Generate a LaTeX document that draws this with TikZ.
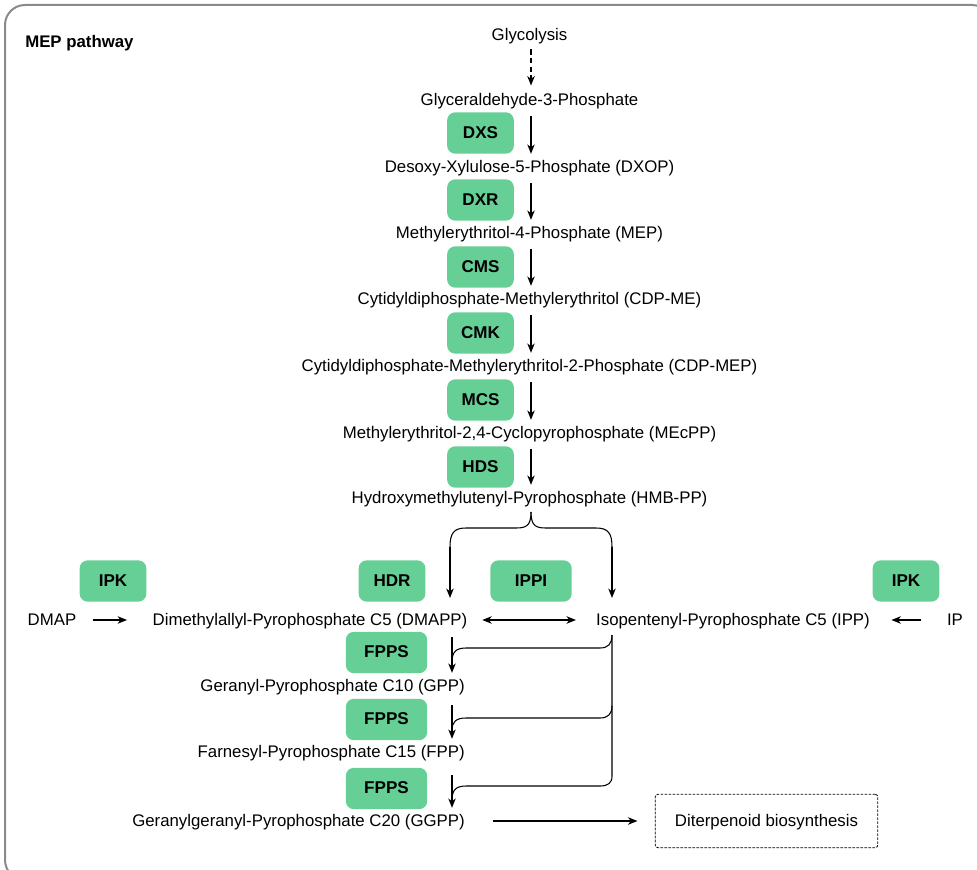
\documentclass[tikz,border=0pt]{standalone}
\usepackage{fontspec}
\setmainfont{Liberation Sans}
\usetikzlibrary{arrows.meta}
\definecolor{enz}{RGB}{102,207,150}
\definecolor{framegray}{RGB}{138,138,138}
\begin{document}
\begin{tikzpicture}[x=0.75pt,y=-0.75pt,
  every node/.style={font=\fontsize{12.6}{15}\selectfont, inner sep=0pt, text height=10.5pt, text depth=2.8pt},
  enzyme/.style={fill=enz, rounded corners=6pt, minimum width=50pt, minimum height=31pt,
    font=\fontsize{12.8}{15}\selectfont\bfseries},
  wideenz/.style={enzyme, minimum width=61pt},
  flow/.style={-{Stealth[length=7pt,width=5.5pt,inset=2pt]}, line width=1.2pt},
  dflow/.style={{Stealth[length=7pt,width=5.5pt,inset=2pt]}-{Stealth[length=7pt,width=5.5pt,inset=2pt]}, line width=1.2pt},
  thinline/.style={line width=0.8pt},
  outerframe/.style={draw=framegray, line width=1.5pt, rounded corners=15pt},
  resultbox/.style={draw, dashed, dash pattern=on 2pt off 1pt, line width=0.6pt, rounded corners=2pt,
    minimum width=167pt, minimum height=40pt}
]
\useasboundingbox (0,0) rectangle (977,870);
\begin{scope}
  \clip (0,0) rectangle (977,870);
  \draw[outerframe] (5,5) rectangle (992,880);
\end{scope}

\coordinate (col) at (531,0);

\node[anchor=west, font=\fontsize{12.6}{15}\selectfont\bfseries] (title) at (25,42) {MEP pathway};

\node (gly)  at (529.5,35)  {Glycolysis};
\node (g3p)  at (529.5,100) {Glyceraldehyde-3-Phosphate};
\node (dxop) at (529.5,167) {Desoxy-Xylulose-5-Phosphate (DXOP)};
\node (mepc) at (529.5,233) {Methylerythritol-4-Phosphate (MEP)};
\node (cdpme) at (529.5,299) {Cytidyldiphosphate-Methylerythritol (CDP-ME)};
\node (cdpmep) at (529.5,366) {Cytidyldiphosphate-Methylerythritol-2-Phosphate (CDP-MEP)};
\node (mecpp) at (529.5,433) {Methylerythritol-2,4-Cyclopyrophosphate (MEcPP)};
\node (hmbpp) at (529.5,498) {Hydroxymethylutenyl-Pyrophosphate (HMB-PP)};

\node[enzyme] (dxs) at (480.5,133) {DXS};
\node[enzyme] (dxr) at (480.5,200) {DXR};
\node[enzyme] (cms) at (480.5,267) {CMS};
\node[enzyme] (cmk) at (480.5,333) {CMK};
\node[enzyme] (mcs) at (480.5,400) {MCS};
\node[enzyme] (hds) at (480.5,467) {HDS};

\draw[flow, dashed, dash pattern=on 4pt off 2.5pt] ([yshift=-4pt]gly.south -| col) -- ([yshift=4pt]g3p.north -| col);
\draw[flow] ([yshift=-5pt]g3p.south -| col) -- ([yshift=3pt]dxop.north -| col);
\draw[flow] ([yshift=-5pt]dxop.south -| col) -- ([yshift=3pt]mepc.north -| col);
\draw[flow] ([yshift=-5pt]mepc.south -| col) -- ([yshift=3pt]cdpme.north -| col);
\draw[flow] ([yshift=-5pt]cdpme.south -| col) -- ([yshift=3pt]cdpmep.north -| col);
\draw[flow] ([yshift=-5pt]cdpmep.south -| col) -- ([yshift=3pt]mecpp.north -| col);
\draw[flow] ([yshift=-5pt]mecpp.south -| col) -- ([yshift=3pt]hmbpp.north -| col);

% lower row
\node[enzyme] (ipkl) at (113,581) {IPK};
\node[enzyme] (hdr)  at (392,581) {HDR};
\node[wideenz] (ippi) at (531,581) {IPPI};
\node[enzyme] (ipkr) at (906,581) {IPK};

\node (dmap) at (52,620) {DMAP};
\node (dmapp) at (310,620) {Dimethylallyl-Pyrophosphate C5 (DMAPP)};
\node (ipp) at (733,620) {Isopentenyl-Pyrophosphate C5 (IPP)};
\node (ip) at (955,620) {IP};

\draw[flow] ([xshift=12pt]dmap.east) -- ([xshift=-19pt]dmapp.west);
\draw[dflow] ([xshift=11pt]dmapp.east) -- ([xshift=-15pt]ipp.west);
\draw[flow] ([xshift=-19pt]ip.west) -- ([xshift=16pt]ipp.east);

% brace from HMB-PP
\coordinate (tip) at (531,512);
\coordinate (bl) at (450,547);
\coordinate (br) at (612,547);
\coordinate (dmtop) at (450,598);
\coordinate (iptop) at (612,598);
\draw[thinline] (tip) .. controls (531,526) and (526,528) .. (516,528) -- (466,528)
  .. controls (454,528) and (450,533) .. (bl);
\draw[thinline] (tip) .. controls (531,526) and (536,528) .. (546,528) -- (596,528)
  .. controls (608,528) and (612,533) .. (br);
\draw[flow] (bl) -- (dmtop);
\draw[flow] (br) -- (iptop);

% FPPS chain
\node[wideenz] (fpps1) at (386.5,652.5) {FPPS};
\node[wideenz] (fpps2) at (386.5,719.5) {FPPS};
\node[wideenz] (fpps3) at (386.5,788.5) {FPPS};

\node[anchor=east] (gpp) at (465,686) {Geranyl-Pyrophosphate C10 (GPP)};
\node[anchor=east] (fpp) at (465,752) {Farnesyl-Pyrophosphate C15 (FPP)};
\node[anchor=east] (ggpp) at (465,821) {Geranylgeranyl-Pyrophosphate C20 (GGPP)};

\coordinate (fcol) at (452,0);
\draw[flow] (452,637) -- ([yshift=3pt]gpp.north -| fcol);
\draw[flow] (452,705) -- ([yshift=3pt]fpp.north -| fcol);
\draw[flow] (452,775) -- ([yshift=3pt]ggpp.north -| fcol);

\coordinate (ippbot) at (612,635);
\draw[thinline] (ippbot) -- (612,776) .. controls (612,783) and (608,786) .. (600,786) -- (466,786)
  .. controls (456,786) and (452,790) .. (452,800);
\draw[thinline] (ippbot) .. controls (612,644) and (608,648) .. (600,648) -- (466,648)
  .. controls (456,648) and (452,652) .. (452,662);
\draw[thinline] (612,706) .. controls (612,714) and (608,718) .. (600,718) -- (466,718)
  .. controls (456,718) and (452,722) .. (452,730);

\node[resultbox] (diter) at (766.5,821) {Diterpenoid biosynthesis};
\coordinate (ggstart) at (493,821);
\draw[flow] (ggstart) -- ([xshift=-13pt]diter.west);

\end{tikzpicture}
\end{document}
